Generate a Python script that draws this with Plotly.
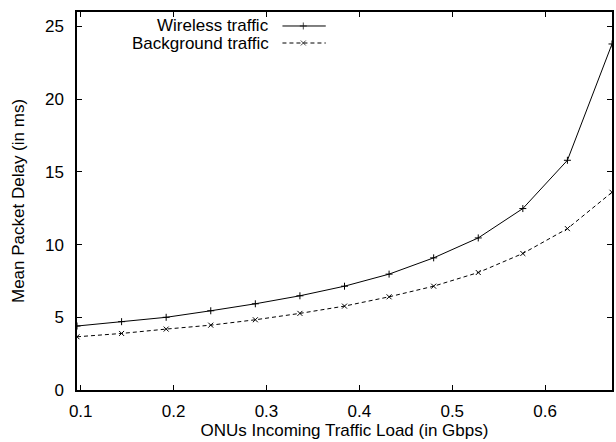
import plotly.graph_objects as go

# ONU incoming load (Gbps) and mean packet delay (ms)
load_gbps = [0.096, 0.144, 0.192, 0.240, 0.288, 0.336, 0.384,
             0.432, 0.480, 0.528, 0.576, 0.624, 0.672]
wireless_delay = [4.4, 4.7, 5.0, 5.45, 5.93, 6.48, 7.14,
                  7.97, 9.09, 10.46, 12.48, 15.8, 23.8]
background_delay = [3.66, 3.89, 4.19, 4.46, 4.83, 5.27, 5.77,
                    6.41, 7.14, 8.08, 9.39, 11.1, 13.6]

x_ticks = [0.1, 0.2, 0.3, 0.4, 0.5, 0.6]
y_ticks = [0, 5, 10, 15, 20, 25]

FONT = "Liberation Sans, Arial, sans-serif"
INK = "black"
FS = 17

fig = go.Figure()

fig.add_trace(go.Scatter(
    x=load_gbps, y=wireless_delay, mode="lines+markers",
    name="Wireless traffic",
    line=dict(color=INK, width=1),
    marker=dict(symbol="cross-thin", size=5, color=INK,
                line=dict(color=INK, width=1)),
    showlegend=False,
))
fig.add_trace(go.Scatter(
    x=load_gbps, y=background_delay, mode="lines+markers",
    name="Background traffic",
    line=dict(color=INK, width=1, dash="4px,3px"),
    marker=dict(symbol="x-thin", size=5, color=INK,
                line=dict(color=INK, width=1)),
    showlegend=False,
))

# Key in the upper left: label on the left, line sample on the right
key = [("Wireless traffic", 0.963, "solid", "cross-thin"),
       ("Background traffic", 0.918, "4px,3px", "x-thin")]
for label, ky, dash, sym in key:
    fig.add_trace(go.Scatter(
        x=[0.384, 0.423, 0.465], y=[ky, ky, ky],
        xaxis="x2", yaxis="y2", mode="lines+markers",
        line=dict(color=INK, width=1, dash=dash),
        marker=dict(symbol=sym, size=[0, 5, 0], color=INK,
                    line=dict(color=INK, width=1)),
        showlegend=False, hoverinfo="skip",
    ))
    fig.add_annotation(
        x=0.363, y=ky, xref="x2", yref="y2", text=label,
        showarrow=False, xanchor="right", yanchor="middle",
        font=dict(family=FONT, size=FS, color=INK),
    )

axis_common = dict(
    showline=True, linecolor=INK, linewidth=1.5, mirror="allticks",
    ticks="inside", ticklen=5, tickwidth=1, tickcolor=INK,
    showgrid=False, zeroline=False,
    tickfont=dict(family=FONT, size=FS, color=INK),
)

fig.update_layout(
    width=616, height=442,
    margin=dict(l=77, r=2, t=12, b=52),
    paper_bgcolor="white", plot_bgcolor="white",
    xaxis=dict(range=[0.096, 0.672], tickvals=x_ticks,
               ticktext=[f"{v:g}" for v in x_ticks],
               ticklabelstandoff=5,
               title=dict(text="ONUs Incoming Traffic Load (in Gbps)",
                          font=dict(family=FONT, size=FS, color=INK),
                          standoff=4),
               **axis_common),
    yaxis=dict(range=[0, 26], tickvals=y_ticks,
               ticktext=[str(v) for v in y_ticks],
               ticklabelstandoff=8,
               title=dict(text="Mean Packet Delay (in ms)",
                          font=dict(family=FONT, size=FS, color=INK),
                          standoff=16),
               **axis_common),
    xaxis2=dict(range=[0, 1], overlaying="x", visible=False, fixedrange=True),
    yaxis2=dict(range=[0, 1], overlaying="y", visible=False, fixedrange=True),
)

fig.write_html("out.html")
